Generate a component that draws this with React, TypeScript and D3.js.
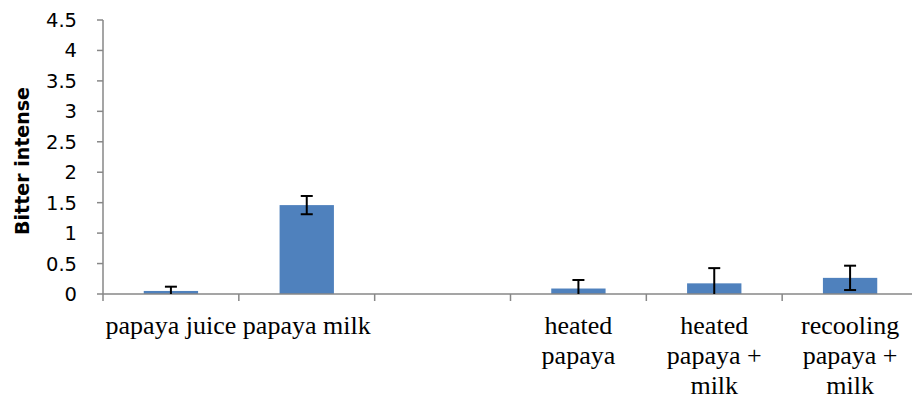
import React from "react";
import * as d3 from "d3";

// Sensory panel: bitterness scores per sample (mean ± error)
const categories: string[][] = [
  ["papaya juice"],
  ["papaya milk"],
  [""],
  ["heated", "papaya"],
  ["heated", "papaya +", "milk"],
  ["recooling", "papaya +", "milk"],
];
const means: (number | null)[] = [0.05, 1.46, null, 0.09, 0.175, 0.265];
const errors: (number | null)[] = [0.07, 0.15, null, 0.14, 0.25, 0.2];
const yTicks: number[] = [0, 0.5, 1, 1.5, 2, 2.5, 3, 3.5, 4, 4.5];

const W = 912;
const H = 403;
const plot = { left: 103, right: 918, top: 20, bottom: 294 };

const serif = "'Liberation Serif', Tinos, 'Nimbus Roman', 'DejaVu Serif Condensed', 'DejaVu Serif', serif";
const sans = "'DejaVu Sans', sans-serif";

export default function App() {
  const x = d3
    .scaleBand<number>()
    .domain(categories.map((_, i) => i))
    .range([plot.left, plot.right])
    .padding(0);
  const y = d3.scaleLinear().domain([0, 4.5]).range([plot.bottom, plot.top]);
  const bw = x.bandwidth();
  const barW = bw * 0.4;
  const axisColor = "#878787";

  return (
    <svg
      width={W}
      height={H}
      style={{ position: "absolute", left: 0, top: 0, background: "#fff" }}
    >
      <defs>
        <clipPath id="plotClip">
          <rect x={plot.left} y={0} width={W - plot.left} height={plot.bottom} />
        </clipPath>
      </defs>

      {/* bars */}
      {means.map((v, i) =>
        v == null ? null : (
          <rect
            key={"b" + i}
            x={(x(i) as number) + (bw - barW) / 2}
            y={y(v)}
            width={barW}
            height={y(0) - y(v)}
            fill="#4F81BD"
          />
        )
      )}

      {/* y axis */}
      <line x1={plot.left} x2={plot.left} y1={plot.top} y2={plot.bottom} stroke={axisColor} strokeWidth={1.5} />
      {yTicks.map((t) => (
        <g key={"t" + t}>
          <line x1={plot.left - 6} x2={plot.left} y1={y(t)} y2={y(t)} stroke={axisColor} strokeWidth={1.5} />
          <text
            x={77}
            y={y(t)}
            dy="0.36em"
            textAnchor="end"
            style={{ fontFamily: sans, fontSize: "19.5px" }}
            fill="#000"
          >
            {String(t)}
          </text>
        </g>
      ))}

      {/* x axis */}
      <line x1={plot.left} x2={plot.right} y1={plot.bottom} y2={plot.bottom} stroke={axisColor} strokeWidth={1.5} />
      {categories.map((_, i) => (
        <line
          key={"ct" + i}
          x1={x(i) as number}
          x2={x(i) as number}
          y1={plot.bottom}
          y2={plot.bottom + 7}
          stroke={axisColor}
          strokeWidth={1.5}
        />
      ))}

      {/* error bars */}
      <g clipPath="url(#plotClip)">
        {means.map((v, i) => {
          const e = errors[i];
          if (v == null || e == null) return null;
          const cx = (x(i) as number) + bw / 2;
          const y1 = y(v + e);
          const y0 = y(v - e);
          return (
            <g key={"e" + i} stroke="#000" strokeWidth={2}>
              <line x1={cx} x2={cx} y1={y1} y2={y0} />
              <line x1={cx - 6} x2={cx + 6} y1={y1} y2={y1} />
              <line x1={cx - 6} x2={cx + 6} y1={y0} y2={y0} />
            </g>
          );
        })}
      </g>

      {/* category labels */}
      {categories.map((lines, i) => (
        <text
          key={"cl" + i}
          x={(x(i) as number) + bw / 2}
          y={334}
          textAnchor="middle"
          style={{ fontFamily: serif, fontSize: "26px" }}
          fill="#000"
        >
          {lines.map((s, j) => (
            <tspan key={j} x={(x(i) as number) + bw / 2} dy={j === 0 ? 0 : 30}>
              {s}
            </tspan>
          ))}
        </text>
      ))}

      {/* y axis title */}
      <text
        transform={`translate(29,161) rotate(-90)`}
        textAnchor="middle"
        style={{ fontFamily: sans, fontWeight: "bold", fontSize: "19px" }}
        fill="#000"
      >
        Bitter intense
      </text>
    </svg>
  );
}
